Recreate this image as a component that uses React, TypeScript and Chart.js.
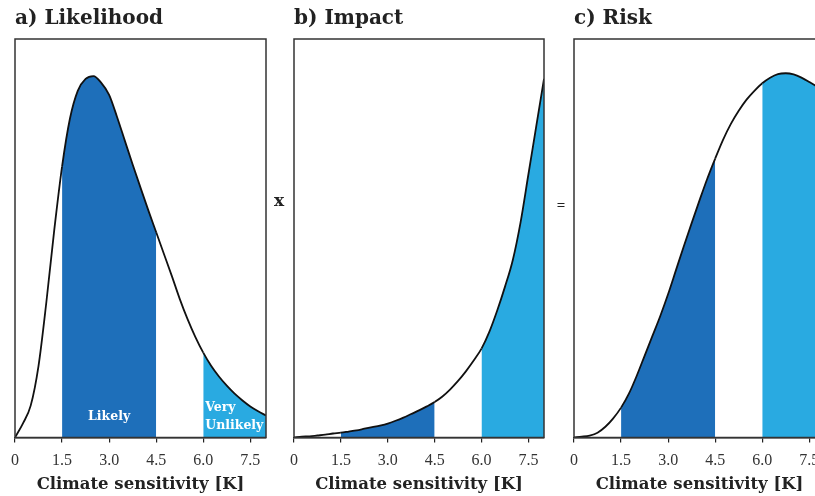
import React, { useEffect, useRef } from 'react';
import { Chart, registerables } from 'chart.js';

Chart.register(...registerables);

// ---- data ----
const X_VALUES = [0, 0.25, 0.5, 0.75, 1.0, 1.25, 1.5, 1.75, 2.0, 2.25, 2.5, 2.75, 3.0, 3.25, 3.5, 3.75, 4.0, 4.25, 4.5, 4.75, 5.0, 5.25, 5.5, 5.75, 6.0, 6.25, 6.5, 6.75, 7.0, 7.25, 7.5, 7.75, 8.0];
const LIKELIHOOD = [0, 0.035, 0.08, 0.18, 0.34, 0.52, 0.68, 0.8, 0.87, 0.9, 0.907, 0.89, 0.86, 0.805, 0.745, 0.685, 0.627, 0.57, 0.515, 0.46, 0.405, 0.348, 0.297, 0.252, 0.213, 0.18, 0.153, 0.13, 0.11, 0.093, 0.078, 0.066, 0.055];
const IMPACT = [0, 0.002, 0.003, 0.005, 0.007, 0.01, 0.012, 0.015, 0.018, 0.022, 0.026, 0.03, 0.035, 0.042, 0.05, 0.059, 0.068, 0.078, 0.089, 0.103, 0.121, 0.142, 0.166, 0.193, 0.223, 0.265, 0.318, 0.378, 0.445, 0.54, 0.66, 0.78, 0.9];
const RISK = [0, 0.002, 0.005, 0.012, 0.027, 0.048, 0.075, 0.11, 0.155, 0.205, 0.255, 0.305, 0.36, 0.42, 0.48, 0.538, 0.595, 0.65, 0.7, 0.747, 0.787, 0.82, 0.848, 0.87, 0.889, 0.903, 0.912, 0.914, 0.911, 0.903, 0.892, 0.88, 0.865];

const TICK_VALUES = [0, 1.5, 3.0, 4.5, 6.0, 7.5];
const TICK_LABELS = ['0', '1.5', '3.0', '4.5', '6.0', '7.5'];
const LIKELY_RANGE = [1.5, 4.5];
const VERY_UNLIKELY_RANGE = [6.0, 8.0];
const PANEL_TITLES = ['a) Likelihood', 'b) Impact', 'c) Risk'];
const X_AXIS_TITLE = 'Climate sensitivity [K]';
const OPERATORS = ['x', '='];
const BAND_LABELS = [
  { lines: ['Likely'], x: 3.0, align: 'center' },
  { lines: ['Very', 'Unlikely'], x: 6.0, align: 'left' },
];

// ---- styles ----
const FONT = "'Liberation Serif', 'Times New Roman', serif";
const WIDE_FONT = "'DejaVu Serif', serif";
const DARK = '#1E6FBA';
const LIGHT = '#29AAE1';

const framePlugin = {
  id: 'frame',
  afterDatasetsDraw(chart: any) {
    const { ctx, chartArea: a } = chart;
    ctx.save();
    ctx.strokeStyle = '#333';
    ctx.lineWidth = 1.5;
    ctx.strokeRect(a.left, a.top, a.right - a.left, a.bottom - a.top);
    ctx.restore();
  },
};

const bandLabelPlugin = {
  id: 'bandLabels',
  afterDatasetsDraw(chart: any, _args: any, opts: any) {
    const labels = opts && opts.labels;
    if (!labels || !labels.length) return;
    const { ctx, chartArea, scales } = chart;
    const xs = scales.x;
    ctx.save();
    ctx.fillStyle = '#ffffff';
    ctx.font = `bold 12.5px ${WIDE_FONT}`;
    ctx.textBaseline = 'middle';
    const center = chartArea.bottom - 21;
    const lh = 18;
    labels.forEach((l: any) => {
      const px = xs.getPixelForValue(l.x);
      ctx.textAlign = l.align;
      const n = l.lines.length;
      const x = l.align === 'left' ? px + 2 : px;
      l.lines.forEach((t: string, i: number) => {
        const y = center + (i - (n - 1) / 2) * lh;
        ctx.fillText(t, x, y);
      });
    });
    ctx.restore();
  },
};

const bandColor = (c: any) => {
  const a = c.p0.parsed.x;
  const b = c.p1.parsed.x;
  if (a >= LIKELY_RANGE[0] && b <= LIKELY_RANGE[1]) return DARK;
  if (a >= VERY_UNLIKELY_RANGE[0] && b <= VERY_UNLIKELY_RANGE[1]) return LIGHT;
  return 'rgba(255,255,255,0)';
};

type PanelProps = {
  title: string;
  values: number[];
  left: number;
  padLeft: number;
  padRight: number;
  showLabels: boolean;
};

function Panel({ title, values, left, padLeft, padRight, showLabels }: PanelProps) {
  const ref = useRef<HTMLCanvasElement | null>(null);
  useEffect(() => {
    if (!ref.current) return;
    const data = X_VALUES.map((x, i) => ({ x, y: values[i] }));
    const chart = new Chart(ref.current, {
      type: 'line',
      data: {
        datasets: [
          {
            data,
            borderColor: '#111',
            borderWidth: 1.8,
            backgroundColor: 'rgba(255,255,255,0)',
            fill: 'origin',
            pointRadius: 0,
            cubicInterpolationMode: 'monotone',
            segment: { backgroundColor: bandColor },
          } as any,
        ],
      },
      options: {
        responsive: false,
        animation: false,
        events: [],
        layout: { padding: { left: padLeft, right: padRight, top: 0, bottom: 0 } },
        plugins: {
          legend: { display: false },
          tooltip: { enabled: false },
          title: {
            display: true,
            text: title,
            align: 'start',
            color: '#222',
            font: { family: WIDE_FONT, size: 20, weight: 'bold', lineHeight: 1.2 },
            padding: { top: 7, bottom: 8 },
          },
          bandLabels: { labels: showLabels ? BAND_LABELS : [] },
        } as any,
        scales: {
          x: {
            type: 'linear',
            min: 0,
            max: 8,
            afterBuildTicks: (s: any) => {
              s.ticks = TICK_VALUES.map((v) => ({ value: v }));
            },
            ticks: {
              callback: (_v: any, i: number) => TICK_LABELS[i],
              color: '#333',
              font: { family: FONT, size: 16, lineHeight: 1 },
              padding: 10,
              maxRotation: 0,
              autoSkip: false,
            },
            grid: {
              display: true,
              drawOnChartArea: false,
              drawTicks: true,
              tickLength: 5,
              color: '#222',
              lineWidth: 1.2,
            },
            border: { display: true, color: '#222', width: 1.5 },
            title: {
              display: true,
              text: X_AXIS_TITLE,
              color: '#222',
              font: { family: WIDE_FONT, size: 16.5, weight: 'bold', lineHeight: '12px' },
              padding: { top: 0, bottom: 5.5 },
            },
          },
          y: { display: false, min: 0, max: 1 },
        },
      } as any,
      plugins: [framePlugin, bandLabelPlugin],
    });
    return () => chart.destroy();
  }, [title, values, padLeft, padRight, showLabels]);

  return (
    <canvas
      ref={ref}
      width={280}
      height={496}
      style={{ position: 'absolute', left, top: 0, width: 280, height: 496 }}
    />
  );
}

export default function App() {
  return (
    <div
      style={{
        position: 'fixed',
        left: 0,
        top: 0,
        width: 815,
        height: 496,
        overflow: 'hidden',
        background: '#fff',
      }}
    >
      <Panel title={PANEL_TITLES[0]} values={LIKELIHOOD} left={0} padLeft={15} padRight={14} showLabels={true} />
      <Panel title={PANEL_TITLES[1]} values={IMPACT} left={280} padLeft={14} padRight={16} showLabels={false} />
      <Panel title={PANEL_TITLES[2]} values={RISK} left={560} padLeft={14} padRight={15} showLabels={false} />
      <div
        style={{
          position: 'absolute',
          left: 279,
          top: 192,
          transform: 'translateX(-50%)',
          font: `bold 17px ${WIDE_FONT}`,
          lineHeight: 1,
          color: '#222',
        }}
      >
        {OPERATORS[0]}
      </div>
      <div
        style={{
          position: 'absolute',
          left: 561,
          top: 198,
          transform: 'translateX(-50%)',
          font: `bold 15px ${FONT}`,
          lineHeight: 1,
          color: '#222',
        }}
      >
        {OPERATORS[1]}
      </div>
    </div>
  );
}
